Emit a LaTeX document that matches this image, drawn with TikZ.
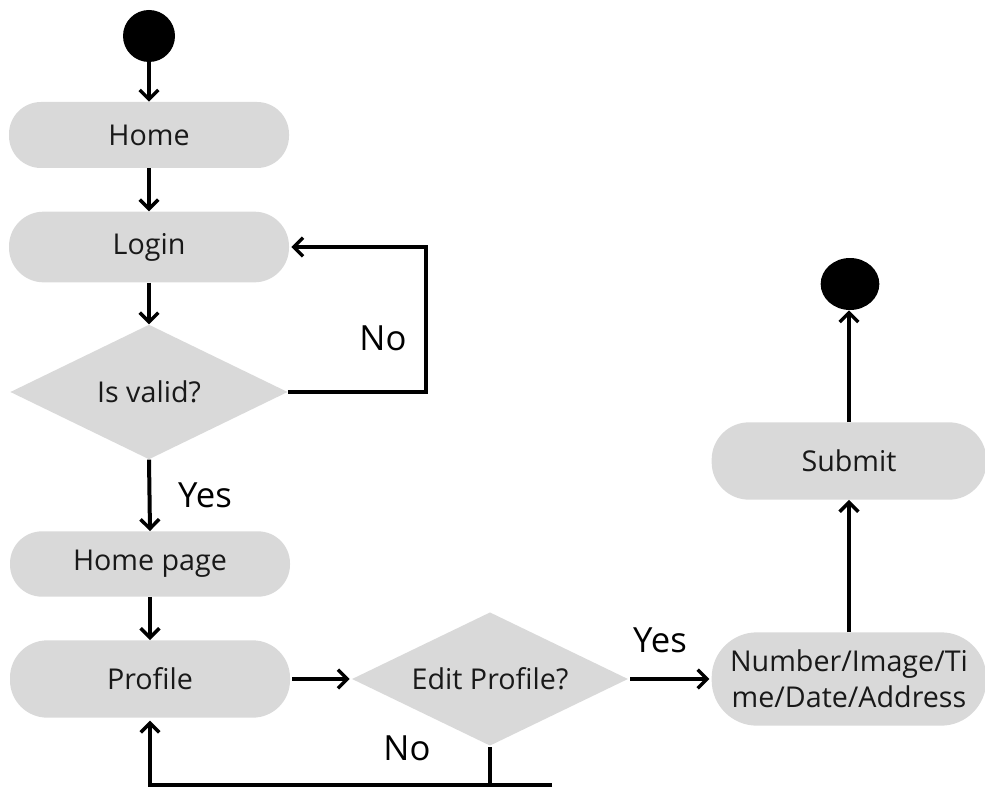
\documentclass[tikz,border=0pt]{standalone}
\usepackage{fontspec}
\setmainfont{Open Sans}
\usetikzlibrary{shapes.geometric,arrows.meta}
\definecolor{boxgray}{HTML}{D9D9D9}
\tikzset{
  act/.style={fill=boxgray, draw=none, rounded corners=#1, minimum width=210pt, inner sep=0pt, align=center, font=\fontsize{21.5}{26}\selectfont, text=black!90},
  dec/.style={diamond, aspect=2, fill=boxgray, draw=none, inner sep=0pt, minimum width=208pt, minimum height=101pt, font=\fontsize{21.5}{26}\selectfont, text=black!90},
  flow/.style={line width=3pt, -{Straight Barb[length=7pt,width=14pt,line width=2.6pt]}},
  plain/.style={line width=3pt},
  lbl/.style={font=\fontsize{26}{30}\selectfont, inner sep=0pt},
  dot/.style={circle, fill=black, inner sep=0pt}
}
\begin{document}
\begin{tikzpicture}[x=0.75pt,y=-0.75pt]
\useasboundingbox (0,0) rectangle (985,788);
\node[dot, minimum size=39pt] (start) at (149,36) {};
\node[act=24pt, minimum height=49.5pt] (home) at (149,135) {Home};
\node[act=26pt, minimum height=53pt] (login) at (149,247) {Login};
\node[dec] (valid) at (149,392) {Is valid?};
\node[act=24pt, minimum height=49pt] (hp) at (150,564) {Home page};
\node[act=28pt, minimum height=58pt] (profile) at (150,679) {Profile};
\node[dec, minimum width=207pt, minimum height=100pt] (edit) at (490,679) {Edit Profile?};
\node[act=34pt, minimum width=206pt, minimum height=70pt, font=\fontsize{21.5}{27}\selectfont] (num) at (849,679) {Number/Image/Ti\\me/Date/Address};
\node[act=28pt, minimum width=206pt, minimum height=58pt] (submit) at (849,461) {Submit};
\node[ellipse, fill=black, inner sep=0pt, minimum width=44pt, minimum height=39pt] (end) at (850,284) {};
\coordinate (br) at (552,785);
\coordinate (loopc) at (426,392);

\draw[flow] (start) -- (home);
\draw[flow] (home) -- (login);
\draw[flow] (login) -- (valid);
\draw[flow] (valid.south) -- (hp.north);
\draw[flow] (hp) -- (profile);
\draw[flow] (valid.east) -- (loopc) |- ([xshift=1.5pt]login.east);
\draw[flow] ([xshift=1.5pt]profile.east) -- ([xshift=-1.5pt]edit.west);
\draw[flow] ([xshift=1.5pt]edit.east) -- ([xshift=-1.5pt]num.west);
\draw[flow] (num) -- (submit);
\draw[flow] (submit.north) -- (end.south -| submit.north);
\draw[plain] ([yshift=-1pt]edit.south) -- (edit.south |- br);
\draw[flow] (br) -- (profile.south |- br) -- ([yshift=-2pt]profile.south);

\node[lbl] (l1) at (383,338) {No};
\node[lbl] (l2) at (205,495) {Yes};
\node[lbl] (l3) at (660,640) {Yes};
\node[lbl] (l4) at (407,748) {No};
\end{tikzpicture}
\end{document}
